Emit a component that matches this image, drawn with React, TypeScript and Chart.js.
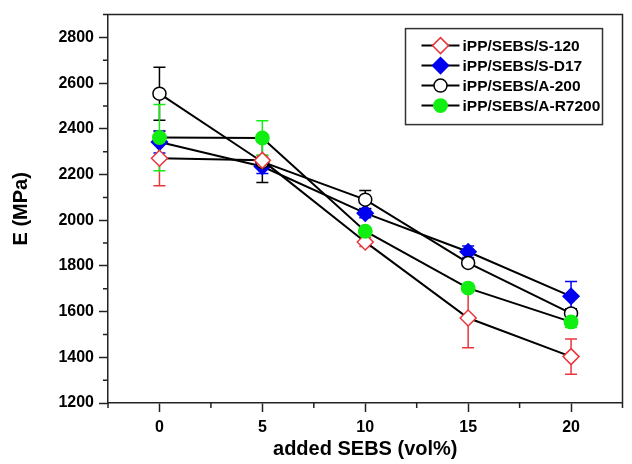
import React, { useEffect, useRef } from "react";
import { Chart, registerables } from "chart.js";

Chart.register(...registerables);

// ---- data ----
const xValues = [0, 5, 10, 15, 20];
const seriesNames = ["iPP/SEBS/S-120", "iPP/SEBS/S-D17", "iPP/SEBS/A-200", "iPP/SEBS/A-R7200"];

const s120 = [2271, 2262, 1905, 1572, 1403];
const s120Err = [120, 20, 20, 130, 77];
const sD17 = [2342, 2235, 2031, 1862, 1667];
const sD17Err = [48, 30, 20, 25, 65];
const a200 = [2554, 2255, 2090, 1813, 1592];
const a200Err = [116, 90, 40, 15, 20];
const aR7200 = [2362, 2360, 1952, 1703, 1555];
const aR7200Err = [145, 75, 15, 10, 25];

const xTickValues = [0, 5, 10, 15, 20];
const xMinorTicks = [-2.5, 2.5, 7.5, 12.5, 17.5, 22.5];
const yTickValues = [1200, 1400, 1600, 1800, 2000, 2200, 2400, 2600, 2800];
const yMinorTicks = [1300, 1500, 1700, 1900, 2100, 2300, 2500, 2700, 2900];

const RED = "#e8363b";
const BLUE = "#0000f0";
const BLACK = "#000000";
const GREEN = "#11ee11";

const FONT = "'Liberation Sans', Arial, sans-serif";

type Style = { shape: "diamond" | "circle"; color: string; fill: string; r: number };
const styles: Style[] = [
  { shape: "diamond", color: RED, fill: "#ffffff", r: 8 },
  { shape: "diamond", color: BLUE, fill: BLUE, r: 8 },
  { shape: "circle", color: BLACK, fill: "#ffffff", r: 6.5 },
  { shape: "circle", color: GREEN, fill: GREEN, r: 6.7 },
];

function drawMarker(ctx: CanvasRenderingContext2D, x: number, y: number, s: Style) {
  ctx.save();
  ctx.beginPath();
  if (s.shape === "diamond") {
    ctx.moveTo(x - s.r, y);
    ctx.lineTo(x, y - s.r);
    ctx.lineTo(x + s.r, y);
    ctx.lineTo(x, y + s.r);
    ctx.closePath();
  } else {
    ctx.arc(x, y, s.r, 0, Math.PI * 2);
  }
  ctx.fillStyle = s.fill;
  ctx.fill();
  ctx.lineWidth = 1.5;
  ctx.strokeStyle = s.color;
  ctx.stroke();
  ctx.restore();
}

const errorBarPlugin = {
  id: "errorBars",
  beforeDatasetsDraw(chart: any) {
    const ctx = chart.ctx;
    const yScale = chart.scales.y;
    chart.data.datasets.forEach((ds: any, i: number) => {
      const meta = chart.getDatasetMeta(i);
      ctx.save();
      ctx.strokeStyle = ds.errColor;
      ctx.lineWidth = 1.5;
      meta.data.forEach((pt: any, j: number) => {
        const v = ds.data[j].y;
        const e = ds.errors[j];
        const x = pt.x;
        const yTop = yScale.getPixelForValue(v + e);
        const yBot = yScale.getPixelForValue(v - e);
        ctx.beginPath();
        ctx.moveTo(x, yTop);
        ctx.lineTo(x, yBot);
        ctx.moveTo(x - 6, yTop);
        ctx.lineTo(x + 6, yTop);
        ctx.moveTo(x - 6, yBot);
        ctx.lineTo(x + 6, yBot);
        ctx.stroke();
      });
      ctx.restore();
    });
  },
};

const framePlugin = {
  id: "frameLegend",
  afterDraw(chart: any) {
    const ctx = chart.ctx;
    const a = chart.chartArea;
    ctx.save();
    ctx.strokeStyle = "#222";
    ctx.lineWidth = 1.5;
    ctx.beginPath();
    ctx.moveTo(a.left, a.top);
    ctx.lineTo(a.right, a.top);
    ctx.lineTo(a.right, a.bottom);
    ctx.stroke();

    // minor ticks
    const xs = chart.scales.x;
    const ys = chart.scales.y;
    ctx.beginPath();
    xMinorTicks.forEach((v) => {
      const px = xs.getPixelForValue(v);
      ctx.moveTo(px, a.bottom);
      ctx.lineTo(px, a.bottom + 5);
    });
    yMinorTicks.forEach((v) => {
      const py = ys.getPixelForValue(v);
      ctx.moveTo(a.left, py);
      ctx.lineTo(a.left - 5, py);
    });
    ctx.stroke();

    // legend
    const boxL = a.right - 217;
    const boxT = a.top + 14;
    const boxW = 197;
    const boxH = 96;
    ctx.fillStyle = "#ffffff";
    ctx.fillRect(boxL, boxT, boxW, boxH);
    ctx.lineWidth = 1.5;
    ctx.strokeStyle = "#333";
    ctx.strokeRect(boxL, boxT, boxW, boxH);
    ctx.font = `bold 15.5px ${FONT}`;
    ctx.textBaseline = "middle";
    ctx.textAlign = "left";
    seriesNames.forEach((name, i) => {
      const cy = boxT + 17 + i * 20;
      ctx.strokeStyle = "#000";
      ctx.lineWidth = 2;
      ctx.beginPath();
      ctx.moveTo(boxL + 16, cy);
      ctx.lineTo(boxL + 54, cy);
      ctx.stroke();
      drawMarker(ctx, boxL + 35, cy, styles[i]);
      ctx.fillStyle = "#000";
      ctx.fillText(name, boxL + 57, cy + 1);
    });
    ctx.restore();
  },
};

const seriesValues = [s120, sD17, a200, aR7200];
const seriesErrors = [s120Err, sD17Err, a200Err, aR7200Err];

export default function App() {
  const ref = useRef<HTMLCanvasElement | null>(null);

  useEffect(() => {
    document.body.style.margin = "0";
    if (!ref.current) return;
    const pointStyleFor = (s: Style) => (s.shape === "diamond" ? "rectRot" : "circle");
    const order = [1, 3, 2, 0];
    const chart = new Chart(ref.current, {
      type: "scatter",
      data: {
        datasets: seriesNames.map((name, i) => ({
          label: name,
          data: xValues.map((x, j) => ({ x, y: seriesValues[i][j] })),
          errors: seriesErrors[i],
          errColor: styles[i].color,
          showLine: true,
          borderColor: "#000",
          borderWidth: 2,
          pointStyle: pointStyleFor(styles[i]),
          pointRadius: styles[i].r,
          pointBorderColor: styles[i].color,
          pointBackgroundColor: styles[i].fill,
          pointBorderWidth: 1.5,
          order: order[i],
        })) as any,
      },
      options: {
        animation: false,
        responsive: false,
        devicePixelRatio: 1,
        layout: { padding: { top: 14, right: 4, left: 0, bottom: 0 } },
        plugins: { legend: { display: false }, tooltip: { enabled: false } },
        scales: {
          x: {
            type: "linear",
            min: -2.5,
            max: 22.5,
            afterBuildTicks: (s: any) => {
              s.ticks = xTickValues.map((v) => ({ value: v }));
            },
            afterFit: (s: any) => {
              s.height = 61;
            },
            grid: { display: true, drawOnChartArea: false, drawTicks: true, tickLength: 9, tickColor: "#222", tickWidth: 1.5 },
            border: { display: true, color: "#222", width: 1.5 },
            ticks: {
              color: "#000",
              padding: 6,
              font: { family: FONT, size: 16, weight: "bold" },
              maxRotation: 0,
              autoSkip: false,
              callback: (v: any) => String(v),
            },
            title: {
              display: true,
              text: "added SEBS (vol%)",
              color: "#000",
              font: { family: FONT, size: 20, weight: "bold" },
              padding: { top: 0, bottom: 3 },
            },
          },
          y: {
            type: "linear",
            min: 1200,
            max: 2900,
            afterBuildTicks: (s: any) => {
              s.ticks = yTickValues.map((v) => ({ value: v }));
            },
            afterFit: (s: any) => {
              s.width = 108;
            },
            grid: { display: true, drawOnChartArea: false, drawTicks: true, tickLength: 9, tickColor: "#222", tickWidth: 1.5 },
            border: { display: true, color: "#222", width: 1.5 },
            ticks: {
              color: "#000",
              padding: 5,
              font: { family: FONT, size: 16, weight: "bold" },
              autoSkip: false,
              callback: (v: any) => String(v),
            },
            title: {
              display: true,
              text: "E (MPa)",
              color: "#000",
              font: { family: FONT, size: 20, weight: "bold" },
              padding: { top: 9, bottom: 0 },
            },
          },
        },
      },
      plugins: [errorBarPlugin, framePlugin],
    });
    return () => chart.destroy();
  }, []);

  return (
    <div style={{ width: 632, height: 464, background: "#fff" }}>
      <canvas ref={ref} width={632} height={464} />
    </div>
  );
}
